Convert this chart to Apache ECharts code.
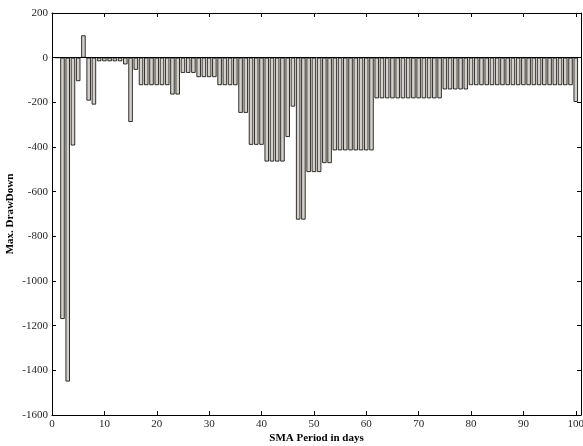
<!DOCTYPE html>
<html lang="en">
<head>
    <meta charset="UTF-8">
    <title>Max. DrawDown</title>
    <script src="https://cdn.jsdelivr.net/npm/echarts@6/dist/echarts.min.js"></script>
    <style>
        html, body { margin: 0; padding: 0; background: #fff; }
    </style>
</head>
<body>
<div id="chart" style="width: 583px;height:446px;"></div>
<script>
    // SMA period 1..100
    var periods = [];
    for (var p = 1; p <= 100; p++) periods.push(p);

    var drawDown = [
        0, -1170, -1450, -393, -105, 100, -192, -210, -16, -16,
        -16, -16, -16, -30, -288, -54, -123, -123, -123, -123,
        -123, -123, -165, -165, -68, -68, -68, -87, -87, -87,
        -87, -123, -123, -123, -123, -247, -247, -390, -390, -390,
        -465, -465, -465, -465, -355, -219, -725, -725, -512, -512,
        -512, -472, -472, -415, -415, -415, -415, -415, -415, -415,
        -415, -182, -182, -182, -182, -182, -182, -182, -182, -182,
        -182, -182, -182, -182, -142, -142, -142, -142, -142, -123,
        -123, -123, -123, -123, -123, -123, -123, -123, -123, -123,
        -123, -123, -123, -123, -123, -123, -123, -123, -123, -198
    ];

    var xTicks = [0, 10, 20, 30, 40, 50, 60, 70, 80, 90, 100];
    var yTicks = [200, 0, -200, -400, -600, -800, -1000, -1200, -1400, -1600];

    var font = 'Liberation Serif';
    var myChart = echarts.init(document.getElementById('chart'));

    var seriesData = [];
    for (var i = 0; i < periods.length; i++) {
        seriesData.push([periods[i], drawDown[i]]);
    }

    var tickStyle = {show: true, inside: true, length: 4, lineStyle: {color: '#000', width: 1}};
    var lineStyle = {show: true, onZero: false, lineStyle: {color: '#000', width: 1}};

    myChart.setOption({
        animation: false,
        grid: {left: 52, right: 2, top: 13, bottom: 31, containLabel: false, outerBoundsMode: 'none'},
        xAxis: [{
            type: 'value',
            min: xTicks[0],
            max: 101,
            interval: 10,
            name: 'SMA Period in days',
            nameLocation: 'middle',
            nameGap: 18,
            nameMoveOverlap: false,
            nameTextStyle: {fontFamily: font, fontSize: 11, fontWeight: 'bold', color: '#000'},
            axisLine: lineStyle,
            axisTick: tickStyle,
            splitLine: {show: false},
            axisLabel: {
                fontFamily: font, fontSize: 11, color: '#262626', margin: 4,
                showMaxLabel: false,
                formatter: function (v) { return xTicks.indexOf(v) >= 0 ? String(v) : ''; }
            }
        }, {
            type: 'value',
            position: 'top',
            min: xTicks[0],
            max: 101,
            interval: 10,
            axisLine: lineStyle,
            axisTick: tickStyle,
            splitLine: {show: false},
            axisLabel: {show: false}
        }],
        yAxis: [{
            type: 'value',
            min: yTicks[yTicks.length - 1],
            max: yTicks[0],
            interval: 200,
            name: 'Max. DrawDown',
            nameLocation: 'middle',
            nameGap: 36,
            nameMoveOverlap: false,
            nameTextStyle: {fontFamily: font, fontSize: 11, fontWeight: 'bold', color: '#000'},
            axisLine: lineStyle,
            axisTick: tickStyle,
            splitLine: {show: false},
            axisLabel: {
                fontFamily: font, fontSize: 11, color: '#262626', margin: 4,
                formatter: function (v) { return String(v); }
            }
        }, {
            type: 'value',
            position: 'right',
            min: yTicks[yTicks.length - 1],
            max: yTicks[0],
            interval: 200,
            axisLine: lineStyle,
            axisTick: tickStyle,
            splitLine: {show: false},
            axisLabel: {show: false}
        }],
        series: [{
            type: 'bar',
            xAxisIndex: 0,
            yAxisIndex: 0,
            barWidth: 4.4,
            itemStyle: {color: '#d4d0c8', borderColor: '#000', borderWidth: 0.8},
            data: seriesData,
            markLine: {
                silent: true,
                symbol: 'none',
                label: {show: false},
                lineStyle: {color: '#000', type: 'solid', width: 1},
                data: [{yAxis: 0}]
            }
        }]
    });
</script>
</body>
</html>
